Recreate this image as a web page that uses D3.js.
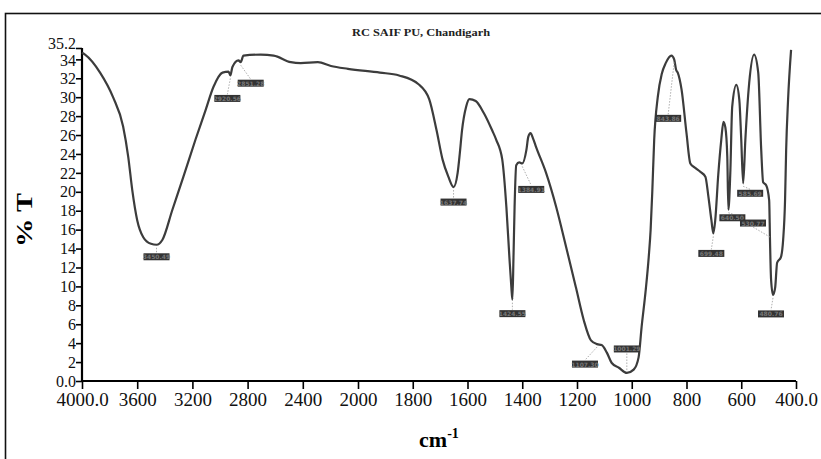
<!DOCTYPE html>
<html>
<head>
<meta charset="utf-8">
<script src="https://cdn.jsdelivr.net/npm/d3@7"></script>
<style>
  body { margin: 0; background: #fff; }
  svg text { font-family: "Liberation Serif", "Times New Roman", serif; }
</style>
</head>
<body>
<div id="ftir"></div>
<script>
// FTIR spectrum, RC SAIF PU Chandigarh

var wavenumber = [4000, 3978, 3869, 3775, 3702, 3665, 3636, 3600, 3556, 3500, 3460, 3418, 3345, 3265, 3178, 3105, 3047, 2982, 2938, 2925, 2910, 2866, 2850, 2830, 2705, 2611, 2487, 2415, 2291, 2196, 2073, 1920,
  1850, 1780, 1740, 1713, 1691, 1670, 1651, 1636, 1628, 1620, 1605, 1593, 1570, 1540, 1510, 1495, 1473, 1458, 1447, 1440, 1436, 1432, 1428, 1422, 1411, 1400, 1385, 1378, 1370, 1360, 1349,
  1313, 1276, 1240, 1204, 1175, 1149, 1127, 1110, 1091, 1073, 1047, 1018, 993, 975, 964, 949, 938, 931, 925, 918, 905, 890, 876, 855, 845, 838, 832, 818, 800, 786, 767, 749, 731, 720, 709, 702, 695,
  684, 673, 665, 658, 651, 647, 640, 633, 618, 607, 600, 593, 585, 571, 553, 538, 527, 520, 509, 498, 495, 491, 484, 476, 469, 455, 447, 440, 436, 429, 418];
var transmittance = [34.7, 34.5, 32.6, 30.0, 26.9, 23.7, 20.2, 17.0, 15.2, 14.5, 14.4, 14.9, 18.1, 21.6, 25.5, 28.6, 31.1, 32.6, 32.7, 32.3, 33.2, 33.9, 33.7, 34.4, 34.5, 34.4, 33.7, 33.6, 33.7, 33.3, 33.0, 32.6,
  32.3, 31.4, 29.8, 26.5, 23.4, 21.6, 20.5, 22.0, 24.1, 26.5, 29.0, 29.8, 29.6, 28.3, 26.5, 25.5, 23.4, 18.4, 13.1, 10.0, 8.6, 13.1, 18.4, 22.8, 23.1, 23.0, 24.4, 25.8, 26.2, 25.6, 24.7,
  22.0, 18.4, 14.2, 9.9, 6.4, 4.3, 3.9, 3.8, 3.0, 1.9, 1.4, 0.85, 1.2, 2.5, 5.7, 9.6, 13.1, 16.0, 20.0, 25.5, 30.0, 32.5, 33.6, 34.4, 34.0, 32.9, 32.6, 30.8, 26.2, 23.0, 22.5, 22.1, 21.6, 19.5, 17.0, 15.6, 17.0,
  21.8, 25.5, 27.4, 26.8, 23.7, 18.1, 22.0, 29.0, 31.3, 29.7, 25.5, 20.9, 25.5, 31.5, 34.5, 32.6, 24.4, 21.0, 20.7, 19.1, 14.9, 10.7, 9.1, 9.9, 12.5, 13.1, 14.9, 19.1, 24.4, 29.7, 35.0];

var peakWn = [3460, 2925, 2850, 1651, 1436, 1400, 1127, 1018, 845, 702, 647, 593, 495, 484];
var peakText = ["3450.49", "2920.56", "2851.28", "1637.74", "1424.55", "1384.91", "1107.30", "1001.29", "843.86", "699.48", "640.50", "585.69", "530.77", "480.76"];
// label placement relative to the marked point (px)
var peakDx = [0, -3, 10, 0, 0, 9, -12, 0, -6, -2, 4, 7, -17, -2];
var peakDy = [12, 23, 21, 15, 14, 26, 20, -24, 59, 20, 8, 10, -17, 19];

var xTickValues = [4000, 3600, 3200, 2800, 2400, 2000, 1800, 1600, 1400, 1200, 1000, 800, 600, 400];
var xTickLabels = ["4000.0", "3600", "3200", "2800", "2400", "2000", "1800", "1600", "1400", "1200", "1000", "800", "600", "400.0"];
var yTickValues = [0, 2, 4, 6, 8, 10, 12, 14, 16, 18, 20, 22, 24, 26, 28, 30, 32, 34, 35.2];
var yTickLabels = ["0.0", "2", "4", "6", "8", "10", "12", "14", "16", "18", "20", "22", "24", "26", "28", "30", "32", "34", "35.2"];

var width = 821, height = 459;
var svg = d3.select("#ftir").append("svg")
  .attr("width", width)
  .attr("height", height);

// outer frame
svg.append("rect")
  .attr("x", 5.5).attr("y", 13.5)
  .attr("width", 840).attr("height", 470)
  .attr("fill", "none")
  .attr("stroke", "#111")
  .attr("stroke-width", 1.6);

// scale changes at 2000 cm-1, like the instrument printout
var x = d3.scaleLinear().domain([4000, 2000, 400]).range([82, 358, 796]);
var y = d3.scaleLinear().domain([0, 35.2]).range([381, 48]);

svg.append("text")
  .attr("x", 421).attr("y", 36)
  .attr("text-anchor", "middle")
  .attr("textLength", 138)
  .attr("lengthAdjust", "spacingAndGlyphs")
  .style("font-size", "10px")
  .style("font-weight", "bold")
  .attr("fill", "#222")
  .text("RC SAIF PU, Chandigarh");

var xAxis = d3.axisBottom(x)
  .tickValues(xTickValues)
  .tickSize(8)
  .tickFormat(function (d, i) { return xTickLabels[i]; });

var gx = svg.append("g")
  .attr("transform", "translate(0,381)")
  .call(xAxis);
gx.select(".domain").attr("stroke-width", 2.2).attr("d", "M82,0H796");
gx.selectAll(".tick line").attr("stroke-width", 1.6);
gx.selectAll(".tick text")
  .attr("y", 12)
  .style("font-size", "19px")
  .attr("fill", "#111");

var yAxis = d3.axisLeft(y)
  .tickValues(yTickValues)
  .tickSize(6)
  .tickFormat(function (d, i) { return yTickLabels[i]; });

var gy = svg.append("g")
  .attr("transform", "translate(82,0)")
  .call(yAxis);
gy.select(".domain").attr("stroke-width", 2.2).attr("d", "M0,48V381");
gy.selectAll(".tick line").attr("stroke-width", 1.6);
gy.selectAll(".tick text")
  .attr("x", -6)
  .style("font-size", "16px")
  .attr("fill", "#111");
// 35.2 and 34 sit tight in the printout; lift the top one a little
gy.selectAll(".tick text")
  .filter(function (d) { return d === 35.2; })
  .attr("dy", "0em");
gy.selectAll(".tick text")
  .filter(function (d) { return d === 34; })
  .attr("dy", "0.38em");

svg.append("text")
  .attr("transform", "translate(32,220) rotate(-90)")
  .attr("text-anchor", "middle")
  .attr("textLength", 54)
  .attr("lengthAdjust", "spacingAndGlyphs")
  .style("font-size", "24px")
  .style("font-weight", "bold")
  .text("% T");

var xt = svg.append("text")
  .attr("x", 439).attr("y", 447)
  .attr("text-anchor", "middle")
  .style("font-size", "22px")
  .style("font-weight", "bold");
xt.append("tspan").text("cm");
xt.append("tspan").attr("dy", -9).style("font-size", "14px").text("-1");

// spectrum
var pts = wavenumber.map(function (w, i) { return [w, transmittance[i]]; });
var line = d3.line()
  .x(function (d) { return x(d[0]); })
  .y(function (d) { return y(d[1]); })
  .curve(d3.curveMonotoneX);

svg.append("path")
  .datum(pts)
  .attr("d", function (d) { return line(d.slice().reverse()); })
  .attr("fill", "none")
  .attr("stroke", "#3c3c3c")
  .attr("stroke-width", 2.2)
  .attr("stroke-linejoin", "round");

// peak picks
var tAt = function (w) {
  var i = wavenumber.indexOf(w);
  return transmittance[i];
};
var peaks = svg.append("g").attr("class", "peaks");
peakWn.forEach(function (w, i) {
  var px = x(w), py = y(tAt(w));
  var lx = px + peakDx[i], ly = py + peakDy[i];
  peaks.append("line")
    .attr("x1", px).attr("y1", py + (peakDy[i] > 0 ? 3 : -3))
    .attr("x2", lx).attr("y2", ly + (peakDy[i] > 0 ? -4 : 4))
    .attr("stroke", "#999")
    .attr("stroke-width", 0.8)
    .attr("stroke-dasharray", "1.5,1.5");
  peaks.append("rect")
    .attr("x", lx - 13).attr("y", ly - 3.5)
    .attr("width", 26).attr("height", 7)
    .attr("fill", "#333");
  peaks.append("text")
    .attr("x", lx).attr("y", ly + 2.5)
    .attr("text-anchor", "middle")
    .style("font-family", "DejaVu Sans")
    .style("font-size", "6px")
    .style("font-weight", "bold")
    .attr("fill", "#777")
    .text(peakText[i]);
});
</script>
</body>
</html>
